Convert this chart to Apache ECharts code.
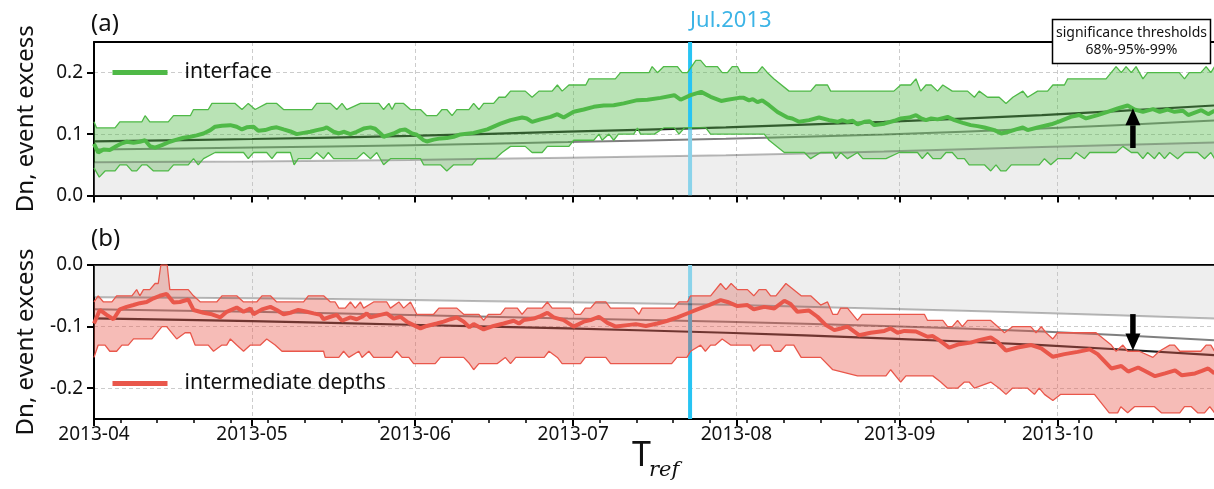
<!DOCTYPE html>
<html><head><meta charset="utf-8">
<script src="https://cdn.jsdelivr.net/npm/echarts@6/dist/echarts.min.js"></script>
<style>html,body{margin:0;padding:0;background:#fff}#c{width:1214px;height:489px}</style>
</head><body><div id="c"></div>
<script>
// ---------- data (day offsets from START) ----------
const START = '2013-04-01';
const END_DAY = 212.7;
const MONTH_TICKS = ['2013-04-01','2013-05-01','2013-06-01','2013-07-01','2013-08-01','2013-09-01','2013-10-01'];
const FIRST_MINOR = '2013-04-06';
const Y_TICKS_A = [0, 0.1, 0.2];
const Y_TICKS_B = [-0.2, -0.1, 0];
const JUL_DAY = 113.2;
const JUL_A = [[0.25, 0.107, 'bright'], [0.107, 0, 'light']];
const JUL_B = [[0, -0.05, 'light'], [-0.05, -0.25, 'bright']];
const ARROW_A = [197.3, 0.079, 0.142];
const ARROW_B = [197.3, -0.0797, -0.139];

const THR_DAYS = [0, 30, 60, 90, 120, 150, 180, 212.7];
const A68 = [0.054, 0.0555, 0.058, 0.0615, 0.0655, 0.0715, 0.079, 0.0865];
const A95 = [0.075, 0.078, 0.082, 0.087, 0.0925, 0.0995, 0.109, 0.122];
const A99 = [0.088, 0.092, 0.097, 0.104, 0.111, 0.120, 0.131, 0.1466];
const B68 = [-0.0525, -0.054, -0.057, -0.0605, -0.0645, -0.071, -0.078, -0.0867];
const B95 = [-0.072, -0.076, -0.081, -0.087, -0.092, -0.099, -0.108, -0.122];
const B99 = [-0.0867, -0.091, -0.097, -0.103, -0.110, -0.119, -0.130, -0.1463];

const A_MAIN = [[0,0.084],[0.8,0.070],[1.8,0.075],[3.0,0.074],[4.3,0.0805],[5.3,0.085],[6.2,0.0875],[7.5,0.086],[8.7,0.0875],[9.7,0.090],[10.6,0.0805],[11.6,0.078],[12.9,0.082],[14.4,0.0875],[15.7,0.091],[17.0,0.094],[18.3,0.0957],[19.5,0.098],[20.8,0.101],[22.1,0.1065],[23.0,0.112],[24.3,0.1135],[25.9,0.1146],[27.1,0.112],[28.1,0.1076],[29.0,0.111],[30.3,0.112],[31.2,0.1054],[32.5,0.1065],[33.8,0.110],[34.7,0.111],[36.0,0.1076],[37.3,0.1043],[38.5,0.100],[39.8,0.102],[41.1,0.1038],[42.3,0.1065],[43.6,0.1087],[44.2,0.111],[45.5,0.1038],[46.5,0.101],[47.4,0.1038],[48.7,0.100],[49.9,0.1038],[51.2,0.109],[52.5,0.111],[53.4,0.1087],[54.4,0.101],[55.0,0.0957],[55.9,0.0984],[56.9,0.101],[58.2,0.1065],[59.1,0.1076],[60.4,0.101],[61.3,0.099],[62.6,0.090],[63.2,0.088],[64.5,0.091],[65.8,0.093],[67.0,0.0935],[68.3,0.0957],[69.6,0.0995],[72.1,0.102],[74.7,0.1076],[77.2,0.117],[79.1,0.1228],[81.3,0.127],[82.2,0.1255],[83.2,0.120],[84.8,0.124],[86.7,0.128],[88.0,0.1325],[89.2,0.127],[91.1,0.1363],[93.0,0.140],[94.9,0.1444],[96.8,0.1466],[98.7,0.147],[100.6,0.150],[103.2,0.1553],[105.1,0.156],[107.6,0.159],[110.2,0.1634],[111.4,0.156],[113.3,0.1634],[115.3,0.1688],[117.1,0.1607],[119.1,0.154],[120.3,0.156],[122.5,0.159],[123.4,0.159],[124.4,0.155],[125.1,0.157],[126.0,0.152],[126.9,0.155],[128.2,0.147],[129.8,0.136],[131.7,0.127],[132.6,0.1255],[133.9,0.120],[135.8,0.1228],[137.7,0.127],[139.6,0.1228],[141.2,0.120],[142.1,0.1228],[143.1,0.120],[144.1,0.1217],[145.0,0.116],[146.3,0.120],[147.3,0.121],[148.2,0.1146],[150.1,0.117],[152.0,0.1217],[153.2,0.1255],[154.8,0.127],[156.1,0.131],[157.1,0.1255],[158.0,0.1228],[159.0,0.1255],[160.2,0.124],[162.1,0.128],[163.4,0.1228],[165.0,0.1184],[166.5,0.1146],[167.8,0.113],[169.1,0.1108],[171.0,0.1065],[172.3,0.101],[173.5,0.1033],[175.1,0.1076],[176.4,0.1108],[177.3,0.1065],[179.2,0.1108],[181.8,0.116],[183.6,0.1217],[185.5,0.128],[187.1,0.131],[188.4,0.1255],[190.6,0.131],[192.5,0.1363],[194.4,0.1417],[196.3,0.1466],[197.6,0.140],[199.2,0.1363],[201.1,0.1406],[202.4,0.1363],[203.9,0.140],[205.2,0.1363],[206.8,0.138],[207.8,0.131],[210.3,0.139],[211.6,0.1325],[212.8,0.138]];

const A_UPPER = [[0,0.12],[0.5,0.11],[4.0,0.11],[4.9,0.12],[9.1,0.12],[9.7,0.13],[10.6,0.12],[14.1,0.12],[15.1,0.13],[18.3,0.13],[18.9,0.14],[21.7,0.14],[22.4,0.15],[26.8,0.15],[28.1,0.14],[29.3,0.15],[30.6,0.14],[32.8,0.15],[34.7,0.15],[36.0,0.14],[41.4,0.14],[42.3,0.15],[44.9,0.15],[46.1,0.14],[47.1,0.15],[48.0,0.14],[50.6,0.15],[54.1,0.15],[55.0,0.14],[56.0,0.15],[56.6,0.14],[57.2,0.15],[58.8,0.15],[60.1,0.14],[62.0,0.14],[63.2,0.13],[65.1,0.13],[66.1,0.14],[67.0,0.14],[68.0,0.13],[68.9,0.14],[71.2,0.14],[72.1,0.15],[73.1,0.14],[74.0,0.15],[75.9,0.15],[76.9,0.16],[78.1,0.16],[79.1,0.17],[81.9,0.17],[83.2,0.16],[84.5,0.17],[87.0,0.17],[88.0,0.18],[88.9,0.17],[90.2,0.18],[93.4,0.18],[94.0,0.19],[99.0,0.19],[100.0,0.20],[105.4,0.20],[106.0,0.21],[107.0,0.20],[108.2,0.21],[110.8,0.21],[111.7,0.20],[112.7,0.20],[114.3,0.22],[115.2,0.22],[116.2,0.21],[118.4,0.21],[119.3,0.20],[120.3,0.20],[121.2,0.21],[122.2,0.21],[122.8,0.20],[126.0,0.20],[126.9,0.21],[127.9,0.20],[129.1,0.19],[132.0,0.17],[136.1,0.17],[137.1,0.18],[139.3,0.18],[139.9,0.17],[151.9,0.17],[153.2,0.18],[155.1,0.18],[156.1,0.19],[157.0,0.17],[158.0,0.18],[159.0,0.18],[160.2,0.17],[161.2,0.18],[163.0,0.17],[165.9,0.17],[167.2,0.16],[168.1,0.17],[169.7,0.16],[171.9,0.16],[173.2,0.15],[174.5,0.16],[176.4,0.17],[177.3,0.16],[179.2,0.17],[181.1,0.17],[182.1,0.18],[184.3,0.18],[184.9,0.19],[192.2,0.19],[194.1,0.21],[195.1,0.20],[196.0,0.21],[197.0,0.20],[197.9,0.21],[199.2,0.19],[200.1,0.20],[206.1,0.20],[207.1,0.19],[208.0,0.20],[210.2,0.20],[211.2,0.21],[212.1,0.20],[212.8,0.21]];

const A_LOWER = [[0,0.045],[1.0,0.03],[2.1,0.04],[4.0,0.04],[4.9,0.05],[6.2,0.05],[7.2,0.04],[8.1,0.04],[9.1,0.05],[10.0,0.05],[11.3,0.04],[14.1,0.04],[15.1,0.05],[17.9,0.05],[18.9,0.06],[19.8,0.05],[20.8,0.06],[23.0,0.07],[28.4,0.07],[29.3,0.06],[30.3,0.07],[32.8,0.07],[33.8,0.06],[34.7,0.07],[37.3,0.07],[38.0,0.05],[38.8,0.06],[41.1,0.06],[42.3,0.07],[43.6,0.06],[44.5,0.07],[45.5,0.06],[49.9,0.06],[51.2,0.07],[52.5,0.06],[53.7,0.07],[55.0,0.05],[56.3,0.06],[62.0,0.06],[62.6,0.05],[65.8,0.05],[67.0,0.04],[68.3,0.05],[71.8,0.05],[72.8,0.06],[76.2,0.06],[77.5,0.07],[79.1,0.08],[81.9,0.08],[83.2,0.07],[85.1,0.07],[86.1,0.08],[90.2,0.08],[91.1,0.09],[94.9,0.09],[95.9,0.10],[96.5,0.09],[97.8,0.10],[98.7,0.09],[99.6,0.10],[102.5,0.10],[103.2,0.11],[103.8,0.10],[106.4,0.10],[108.2,0.11],[110.2,0.11],[111.1,0.10],[112.1,0.11],[116.2,0.11],[117.1,0.10],[127.3,0.10],[128.2,0.09],[131.1,0.07],[134.9,0.07],[136.1,0.06],[138.0,0.07],[140.3,0.07],[140.9,0.06],[141.8,0.07],[143.1,0.06],[145.0,0.07],[146.0,0.06],[150.4,0.06],[152.9,0.07],[156.4,0.07],[157.3,0.06],[158.3,0.07],[159.3,0.06],[160.8,0.06],[161.8,0.07],[163.0,0.07],[164.0,0.06],[165.3,0.06],[166.2,0.05],[169.1,0.05],[170.3,0.04],[171.3,0.05],[172.2,0.04],[173.2,0.04],[174.2,0.05],[179.5,0.05],[180.5,0.06],[181.7,0.05],[183.0,0.06],[185.5,0.06],[186.5,0.07],[188.1,0.06],[189.1,0.07],[194.1,0.07],[195.4,0.08],[197.0,0.07],[198.2,0.07],[199.2,0.06],[200.1,0.07],[201.4,0.06],[202.3,0.07],[203.3,0.06],[204.3,0.07],[205.8,0.06],[207.1,0.07],[209.6,0.07],[210.9,0.06],[212.1,0.07],[212.8,0.06]];

const B_MAIN = [[0,-0.095],[1.1,-0.073],[2.4,-0.081],[3.7,-0.088],[4.9,-0.072],[6.2,-0.068],[7.5,-0.065],[8.7,-0.062],[10.0,-0.060],[11.3,-0.054],[12.5,-0.050],[13.8,-0.047],[15.1,-0.061],[16.3,-0.060],[17.9,-0.056],[18.9,-0.073],[20.8,-0.0775],[22.4,-0.080],[24.0,-0.085],[25.2,-0.076],[27.1,-0.069],[28.4,-0.076],[29.7,-0.0705],[30.3,-0.080],[31.9,-0.072],[33.5,-0.068],[34.7,-0.073],[36.0,-0.080],[37.3,-0.0775],[38.8,-0.073],[40.4,-0.076],[41.7,-0.0786],[43.0,-0.081],[43.6,-0.088],[44.9,-0.084],[46.1,-0.081],[47.1,-0.0905],[48.7,-0.085],[49.9,-0.088],[50.9,-0.084],[51.8,-0.0786],[52.5,-0.085],[54.4,-0.081],[55.6,-0.0786],[56.9,-0.087],[58.2,-0.084],[59.4,-0.092],[60.7,-0.0976],[62.0,-0.103],[63.2,-0.099],[65.1,-0.095],[66.4,-0.092],[67.7,-0.088],[68.9,-0.085],[70.2,-0.092],[71.3,-0.101],[72.1,-0.096],[74.0,-0.1046],[75.9,-0.099],[77.8,-0.095],[79.7,-0.0905],[80.7,-0.095],[81.6,-0.0894],[83.5,-0.087],[84.8,-0.083],[86.1,-0.0775],[87.3,-0.085],[89.2,-0.0894],[91.1,-0.100],[93.0,-0.092],[94.3,-0.0894],[95.9,-0.084],[97.5,-0.094],[99.1,-0.100],[101.3,-0.0976],[102.9,-0.096],[104.8,-0.099],[107.0,-0.095],[108.9,-0.0905],[110.8,-0.085],[113.0,-0.0775],[114.6,-0.072],[116.8,-0.065],[119.0,-0.057],[120.3,-0.060],[122.2,-0.0667],[124.1,-0.065],[125.3,-0.072],[127.3,-0.068],[129.2,-0.0705],[131.1,-0.058],[132.3,-0.0634],[133.6,-0.076],[135.8,-0.074],[137.4,-0.084],[139.0,-0.0976],[140.6,-0.1057],[141.8,-0.103],[143.1,-0.100],[145.3,-0.114],[147.5,-0.110],[150.1,-0.107],[151.3,-0.103],[152.6,-0.110],[153.9,-0.107],[156.1,-0.108],[158.3,-0.1165],[159.3,-0.1154],[160.5,-0.122],[162.4,-0.134],[164.3,-0.1285],[166.5,-0.126],[168.1,-0.122],[170.3,-0.1176],[171.6,-0.125],[173.2,-0.139],[175.4,-0.134],[178.0,-0.130],[179.9,-0.1355],[182.1,-0.149],[184.3,-0.1447],[186.8,-0.141],[189.1,-0.137],[190.6,-0.1447],[193.2,-0.168],[195.1,-0.164],[196.4,-0.173],[198.3,-0.1664],[199.6,-0.172],[201.5,-0.1805],[203.4,-0.176],[205.3,-0.171],[206.6,-0.179],[209.1,-0.176],[210.4,-0.172],[211.6,-0.168],[212.8,-0.176]];

const B_UPPER = [[0,-0.06],[0.8,-0.05],[1.8,-0.06],[3.4,-0.06],[4.3,-0.05],[7.2,-0.05],[8.1,-0.04],[8.7,-0.05],[9.4,-0.04],[10.6,-0.04],[11.6,-0.03],[12.2,-0.03],[12.7,0.0],[13.9,0.0],[14.4,-0.04],[17.9,-0.04],[18.9,-0.05],[20.2,-0.06],[23.3,-0.06],[24.3,-0.05],[27.1,-0.05],[28.4,-0.06],[30.9,-0.06],[31.9,-0.05],[33.5,-0.05],[34.7,-0.06],[39.8,-0.06],[40.7,-0.05],[43.6,-0.05],[44.9,-0.06],[45.8,-0.06],[46.5,-0.07],[47.7,-0.07],[48.7,-0.06],[49.6,-0.07],[50.6,-0.06],[51.2,-0.07],[53.1,-0.06],[55.6,-0.06],[56.3,-0.07],[57.9,-0.06],[58.8,-0.07],[60.1,-0.06],[61.3,-0.08],[64.5,-0.08],[65.5,-0.07],[68.9,-0.07],[70.2,-0.08],[73.1,-0.08],[74.0,-0.09],[74.9,-0.08],[77.2,-0.08],[78.1,-0.07],[80.4,-0.07],[81.3,-0.08],[82.3,-0.07],[85.1,-0.07],[86.1,-0.06],[87.0,-0.07],[90.5,-0.07],[91.4,-0.08],[92.4,-0.08],[93.3,-0.07],[94.3,-0.07],[95.3,-0.06],[97.2,-0.06],[98.1,-0.07],[102.5,-0.07],[103.5,-0.08],[104.1,-0.07],[110.1,-0.07],[111.1,-0.06],[112.7,-0.06],[113.3,-0.05],[117.1,-0.05],[119.0,-0.03],[120.0,-0.04],[121.0,-0.03],[122.2,-0.04],[124.1,-0.04],[125.3,-0.05],[126.3,-0.04],[127.6,-0.04],[128.5,-0.05],[129.5,-0.05],[131.4,-0.03],[134.3,-0.05],[136.1,-0.05],[138.0,-0.065],[139.3,-0.06],[140.3,-0.08],[141.2,-0.08],[141.8,-0.07],[143.1,-0.07],[145.0,-0.09],[145.9,-0.08],[157.7,-0.08],[158.3,-0.09],[161.2,-0.09],[162.1,-0.10],[163.0,-0.10],[164.0,-0.09],[164.9,-0.10],[165.9,-0.09],[170.3,-0.09],[171.6,-0.10],[172.9,-0.11],[174.5,-0.10],[177.9,-0.10],[178.9,-0.11],[179.9,-0.10],[180.8,-0.11],[182.1,-0.12],[183.0,-0.11],[190.3,-0.11],[193.2,-0.13],[194.1,-0.14],[195.4,-0.13],[196.3,-0.14],[198.5,-0.14],[201.1,-0.15],[202.3,-0.14],[204.3,-0.13],[205.2,-0.13],[206.2,-0.14],[210.2,-0.14],[211.2,-0.13],[212.1,-0.13],[212.8,-0.14]];

const B_LOWER = [[0,-0.15],[0.8,-0.13],[2.1,-0.13],[3.0,-0.14],[4.3,-0.14],[5.3,-0.13],[6.5,-0.13],[7.5,-0.12],[11.0,-0.12],[12.9,-0.10],[13.8,-0.10],[15.7,-0.12],[17.3,-0.11],[18.3,-0.11],[19.2,-0.13],[21.7,-0.13],[22.7,-0.14],[24.3,-0.13],[25.2,-0.13],[25.9,-0.12],[27.1,-0.13],[28.4,-0.14],[29.7,-0.13],[31.6,-0.13],[32.8,-0.12],[34.4,-0.13],[35.7,-0.14],[43.6,-0.14],[43.9,-0.15],[46.5,-0.15],[47.4,-0.14],[48.4,-0.15],[50.3,-0.14],[50.9,-0.15],[52.2,-0.14],[53.1,-0.15],[56.6,-0.15],[57.5,-0.14],[58.5,-0.15],[59.8,-0.15],[60.7,-0.16],[64.8,-0.16],[65.8,-0.15],[70.2,-0.15],[71.3,-0.16],[72.1,-0.17],[73.1,-0.16],[76.6,-0.16],[78.1,-0.15],[79.1,-0.16],[80.1,-0.15],[85.5,-0.15],[86.4,-0.14],[88.0,-0.15],[88.9,-0.16],[92.4,-0.16],[93.3,-0.15],[97.2,-0.15],[98.1,-0.16],[109.7,-0.16],[110.7,-0.15],[112.6,-0.15],[113.3,-0.14],[115.2,-0.13],[116.1,-0.14],[117.1,-0.13],[118.0,-0.13],[119.3,-0.12],[120.9,-0.13],[124.7,-0.13],[125.3,-0.14],[126.6,-0.13],[128.5,-0.13],[129.2,-0.14],[130.4,-0.14],[131.4,-0.13],[132.9,-0.13],[134.3,-0.15],[138.0,-0.15],[140.3,-0.17],[145.0,-0.18],[150.4,-0.18],[151.3,-0.17],[153.2,-0.19],[154.2,-0.18],[159.3,-0.18],[160.8,-0.19],[162.1,-0.20],[164.0,-0.20],[165.3,-0.19],[166.2,-0.19],[167.2,-0.20],[170.3,-0.19],[171.9,-0.20],[173.2,-0.21],[174.4,-0.20],[177.3,-0.20],[178.6,-0.21],[179.5,-0.20],[180.5,-0.21],[182.1,-0.22],[183.6,-0.21],[190.0,-0.21],[192.8,-0.24],[194.4,-0.24],[195.0,-0.23],[196.3,-0.24],[197.6,-0.23],[201.4,-0.23],[202.7,-0.24],[206.2,-0.24],[207.1,-0.23],[208.4,-0.23],[209.6,-0.24],[210.9,-0.24],[211.9,-0.23],[212.8,-0.24]];

// ---------- helpers ----------
const FONT = '"Noto Sans", "DejaVu Sans", sans-serif';
const DAY = 86400000;
const parseDay = s => { const p = s.split('-').map(Number); return Date.UTC(p[0], p[1] - 1, p[2]); };
const T0 = parseDay(START);
const ts = d => T0 + d * DAY;
const toXY = arr => arr.map(p => [ts(p[0]), p[1]]);
const thr = vals => vals.map((v, i) => [ts(THR_DAYS[i]), v]);
const monthTs = MONTH_TICKS.map(parseDay);
const minorTs = [];
for (let t = parseDay(FIRST_MINOR); t <= ts(END_DAY); t += 7 * DAY) minorTs.push(t);
const fmtMonth = v => { const d = new Date(v); return d.getUTCFullYear() + '-' + String(d.getUTCMonth() + 1).padStart(2, '0'); };

const GREEN = '#4fb947', RED = '#e9574b';
const JUL_COL = { bright: '#27c4f3', light: '#8ad3ea' };

function xAxes(gi, showLabels) {
  const base = { type: 'value', gridIndex: gi, min: ts(0), max: ts(END_DAY), scale: true };
  return [
    Object.assign({}, base, {
      position: 'bottom',
      axisLine: { show: true, onZero: false, lineStyle: { color: '#000', width: 2 } },
      axisTick: { show: true, customValues: monthTs, length: 7, lineStyle: { color: '#000', width: 2 } },
      axisLabel: { show: showLabels, customValues: monthTs, formatter: fmtMonth, fontSize: 19, color: '#111', margin: 6, fontFamily: FONT },
      splitLine: { show: true, lineStyle: { color: '#cccccc', width: 1, type: [4, 3] } }
    }),
    Object.assign({}, base, {
      position: 'bottom',
      axisLine: { show: false, onZero: false },
      axisTick: { show: true, customValues: minorTs, length: 4, lineStyle: { color: '#000', width: 1.5 } },
      axisLabel: { show: false }, splitLine: { show: false }
    }),
    Object.assign({}, base, {
      position: 'top',
      axisLine: { show: true, onZero: false, lineStyle: { color: '#000', width: 2 } },
      axisTick: { show: false }, axisLabel: { show: false }, splitLine: { show: false }
    })
  ];
}
function yAxis(gi, min, max, ticks) {
  return {
    type: 'value', gridIndex: gi, min: min, max: max,
    name: 'Dn, event excess', nameLocation: 'middle', nameGap: 56,
    nameTextStyle: { fontSize: 24, color: '#111', fontFamily: FONT },
    axisLine: { show: true, onZero: false, lineStyle: { color: '#000', width: 2 } },
    axisTick: { show: true, customValues: ticks, length: 7, lineStyle: { color: '#000', width: 2 } },
    axisLabel: { customValues: ticks, formatter: v => v.toFixed(1), fontSize: 19, color: '#111', margin: 11, fontFamily: FONT },
    splitLine: { show: true, lineStyle: { color: '#cccccc', width: 1, type: [4, 3] } }
  };
}

function bandSeries(gi, upper, lower, fill, z) {
  return {
    type: 'custom', xAxisIndex: gi * 3, yAxisIndex: gi, z: z, silent: true, clip: true,
    data: [[ts(upper[0][0]), upper[0][1]]], encode: { x: 0, y: 1 },
    renderItem: (params, api) => {
      const pts = upper.map(p => api.coord([ts(p[0]), p[1]]));
      for (let i = lower.length - 1; i >= 0; i--) pts.push(api.coord([ts(lower[i][0]), lower[i][1]]));
      return { type: 'polygon', shape: { points: pts }, style: { fill: fill } };
    }
  };
}
function vsegSeries(gi, seg, z) {
  return {
    type: 'custom', xAxisIndex: gi * 3, yAxisIndex: gi, z: z, silent: true, clip: true,
    data: [[ts(JUL_DAY), seg[0], seg[1]]], encode: { x: 0, y: 1 },
    renderItem: (params, api) => {
      const p0 = api.coord([api.value(0), api.value(1)]);
      const p1 = api.coord([api.value(0), api.value(2)]);
      return { type: 'line', shape: { x1: p0[0], y1: p0[1], x2: p1[0], y2: p1[1] }, style: { stroke: JUL_COL[seg[2]], lineWidth: 4 } };
    }
  };
}
function arrowSeries(gi, arrow, z) {
  return {
    type: 'custom', xAxisIndex: gi * 3, yAxisIndex: gi, z: z, silent: true,
    data: [[ts(arrow[0]), arrow[1], arrow[2]]], encode: { x: 0, y: 1 },
    renderItem: (params, api) => {
      const p0 = api.coord([api.value(0), api.value(1)]);
      const p1 = api.coord([api.value(0), api.value(2)]);
      const dir = p1[1] > p0[1] ? 1 : -1;
      const headLen = 17, headW = 15, shaftW = 5.5;
      const baseY = p1[1] - dir * headLen;
      return { type: 'group', children: [
        { type: 'rect', shape: { x: p0[0] - shaftW / 2, y: Math.min(p0[1], baseY), width: shaftW, height: Math.abs(baseY - p0[1]) + 1 }, style: { fill: '#000' } },
        { type: 'polygon', shape: { points: [[p1[0] - headW / 2, baseY], [p1[0] + headW / 2, baseY], [p1[0], p1[1]]] }, style: { fill: '#000' } }
      ] };
    }
  };
}
function lineSeries(gi, name, data, color, width, z, extra) {
  return Object.assign({
    type: 'line', name: name, xAxisIndex: gi * 3, yAxisIndex: gi, data: data, z: z,
    showSymbol: false, symbol: 'none', color: color, silent: true,
    lineStyle: { color: color, width: width }
  }, extra || {});
}

function panelSeries(gi, main, upper, lower, t68, t95, t99, color, fill, name, origin, jul, arrow) {
  const s = [];
  s.push(lineSeries(gi, name + '99', thr(t99), 'rgba(0,0,0,0.88)', 2.2, 2, { smooth: 0.3 }));
  s.push(lineSeries(gi, name + '95', thr(t95), 'rgba(0,0,0,0.5)', 2, 2, { smooth: 0.3 }));
  jul.forEach(seg => s.push(vsegSeries(gi, seg, (gi === 1 && seg[2] === 'bright') ? 3 : 6)));
  s.push(bandSeries(gi, upper, lower, fill, 4));
  s.push(lineSeries(gi, name + '68', thr(t68), 'rgba(0,0,0,0.27)', 2, 5,
    { smooth: 0.3, areaStyle: { color: 'rgba(190,190,190,0.38)', origin: origin } }));
  s.push(lineSeries(gi, name + 'up', toXY(upper), color, 1.3, 7));
  s.push(lineSeries(gi, name + 'lo', toXY(lower), color, 1.3, 7));
  s.push(lineSeries(gi, name, toXY(main), color, 4, 8));
  s.push(arrowSeries(gi, arrow, 9));
  return s;
}

const chart = echarts.init(document.getElementById('c'), null, { renderer: 'canvas' });
const legendBase = { orient: 'horizontal', icon: 'rect', itemWidth: 55, itemHeight: 5, selectedMode: false, padding: 0,
  textStyle: { fontSize: 21, color: '#111', fontFamily: FONT, padding: [0, 0, 0, 12] } };
const option = {
  animation: false,
  backgroundColor: '#fff',
  textStyle: { fontFamily: FONT },
  grid: [
    { left: 94, right: 0, top: 42, height: 153.5 },
    { left: 94, right: 0, top: 265, height: 154 }
  ],
  legend: [
    Object.assign({ data: ['interface'], left: 112.5, top: 62 }, legendBase),
    Object.assign({ data: ['intermediate depths'], left: 112.5, top: 373 }, legendBase)
  ],
  xAxis: xAxes(0, false).concat(xAxes(1, true)),
  yAxis: [yAxis(0, 0, 0.25, Y_TICKS_A), yAxis(1, -0.25, 0, Y_TICKS_B)],
  series: panelSeries(0, A_MAIN, A_UPPER, A_LOWER, A68, A95, A99, GREEN, 'rgba(79,185,71,0.4)', 'interface', 'start', JUL_A, ARROW_A)
    .concat(panelSeries(1, B_MAIN, B_UPPER, B_LOWER, B68, B95, B99, RED, 'rgba(233,87,75,0.4)', 'intermediate depths', 'end', JUL_B, ARROW_B))
};
chart.setOption(option);

const julX = chart.convertToPixel({ xAxisIndex: 0 }, ts(JUL_DAY));
chart.setOption({ graphic: { elements: [
  { type: 'text', x: 91, y: 24, style: { text: '(a)', font: '24px ' + FONT, fill: '#111', textAlign: 'left', textVerticalAlign: 'middle' } },
  { type: 'text', x: 91, y: 239, style: { text: '(b)', font: '24px ' + FONT, fill: '#111', textAlign: 'left', textVerticalAlign: 'middle' } },
  { type: 'text', x: julX, y: 21, style: { text: 'Jul.2013', font: '22px ' + FONT, fill: '#3cb4e6', textAlign: 'left', textVerticalAlign: 'middle' } },
  { type: 'text', x: 632, y: 456, style: { text: 'T', font: '34px ' + FONT, fill: '#111', textAlign: 'left', textVerticalAlign: 'middle' } },
  { type: 'text', x: 649, y: 471, style: { text: 'ref', font: 'italic 21px "DejaVu Serif", serif', fill: '#111', textAlign: 'left', textVerticalAlign: 'middle' } },
  { type: 'rect', z: 100, shape: { x: 1052.5, y: 19.5, width: 158, height: 44 }, style: { fill: '#fff', stroke: '#000', lineWidth: 1.5 } },
  { type: 'text', z: 101, x: 1131.5, y: 33.5, style: { text: 'significance thresholds', font: '14px ' + FONT, fill: '#111', textAlign: 'center', textVerticalAlign: 'middle' } },
  { type: 'text', z: 101, x: 1131.5, y: 50, style: { text: '68%-95%-99%', font: '14px ' + FONT, fill: '#111', textAlign: 'center', textVerticalAlign: 'middle' } }
] } });
</script>
</body></html>
